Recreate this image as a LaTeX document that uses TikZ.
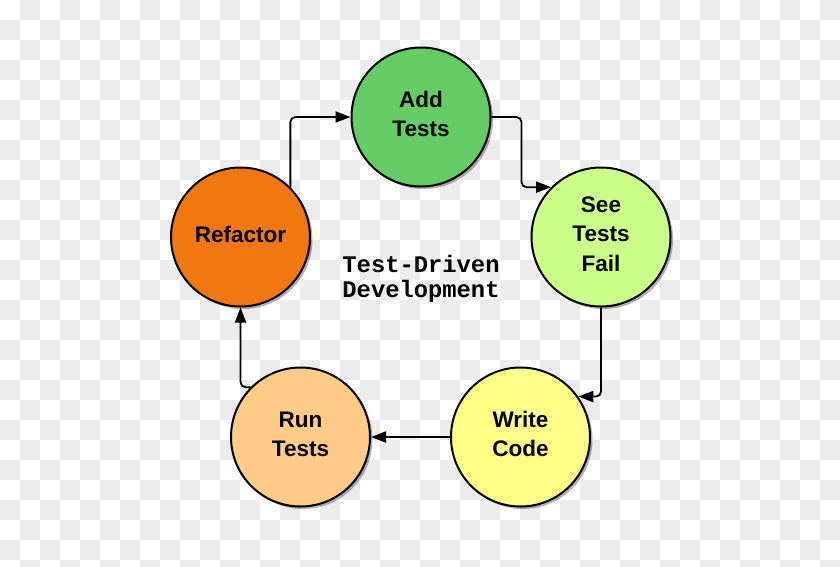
\documentclass[tikz,border=0pt]{standalone}
\usepackage{fontspec}
\usepackage{xcolor}
\usetikzlibrary{arrows.meta}
\usetikzlibrary{shadows}
\newfontfamily\tddsans{Liberation Sans}
\newfontfamily\tddmono{Liberation Mono}
\definecolor{checker}{RGB}{236,236,236}
\definecolor{addgreen}{RGB}{102,204,102}
\definecolor{failgreen}{RGB}{204,255,136}
\definecolor{codeyellow}{RGB}{255,255,136}
\definecolor{runorange}{RGB}{255,204,136}
\definecolor{refactororange}{RGB}{240,120,14}

\begin{document}
\begin{tikzpicture}[x=1pt, y=-1pt,
		stage/.style={circle, draw=black, line width=2pt, minimum size=139pt, inner sep=0pt,
			align=center, text depth=6pt, font=\tddsans\bfseries\fontsize{22.5}{29.5}\selectfont,
			drop shadow={shadow xshift=2.5pt, shadow yshift=-2.5pt, opacity=.3, fill=black}},
		flow/.style={line width=1.8pt, rounded corners=5pt, -{Triangle[length=15pt,width=11pt]}}]
				% page and transparency checkerboard
				\useasboundingbox (0,0) rectangle (840,566);
				\begin{scope}
					\clip (0,0) rectangle (840,566);
					\fill[white] (0,0) rectangle (840,566);
					\foreach \j in {0,...,28}{
						\pgfmathtruncatemacro{\st}{mod(\j+1,2)*20}
						\pgfmathtruncatemacro{\nx}{\st+40}
						\foreach \i in {\st,\nx,...,840}
							\fill[checker] (\i,\j*20) rectangle ++(20,20);
					}
				\end{scope}
				% draw stages
				\node[stage, fill=addgreen] (add) at (421,117) {Add\\Tests};
				\node[stage, fill=failgreen] (see) at (601,237) {See\\Tests\\Fail};
				\node[stage, fill=codeyellow] (write) at (520.5,437) {Write\\Code};
				\node[stage, fill=runorange] (run) at (300.5,437) {Run\\Tests};
				\node[stage, fill=refactororange] (refactor) at (240.5,237) {Refactor};
				% title
				\node[align=center, font=\tddmono\bfseries\fontsize{23.8}{25}\selectfont] (title) at (421,279) {Test-Driven\\Development};
				% draw cycle
				\draw[flow] (refactor.45) |- (add.west);
				\draw[flow] (add.east) -- ++(30,0) |- (see.135);
				\draw[flow] (see.south) |- (write.35);
				\draw[flow] (write.west) -- (run.east);
				\draw[flow] (run.135) -| (refactor.south);
\end{tikzpicture}
\end{document}
